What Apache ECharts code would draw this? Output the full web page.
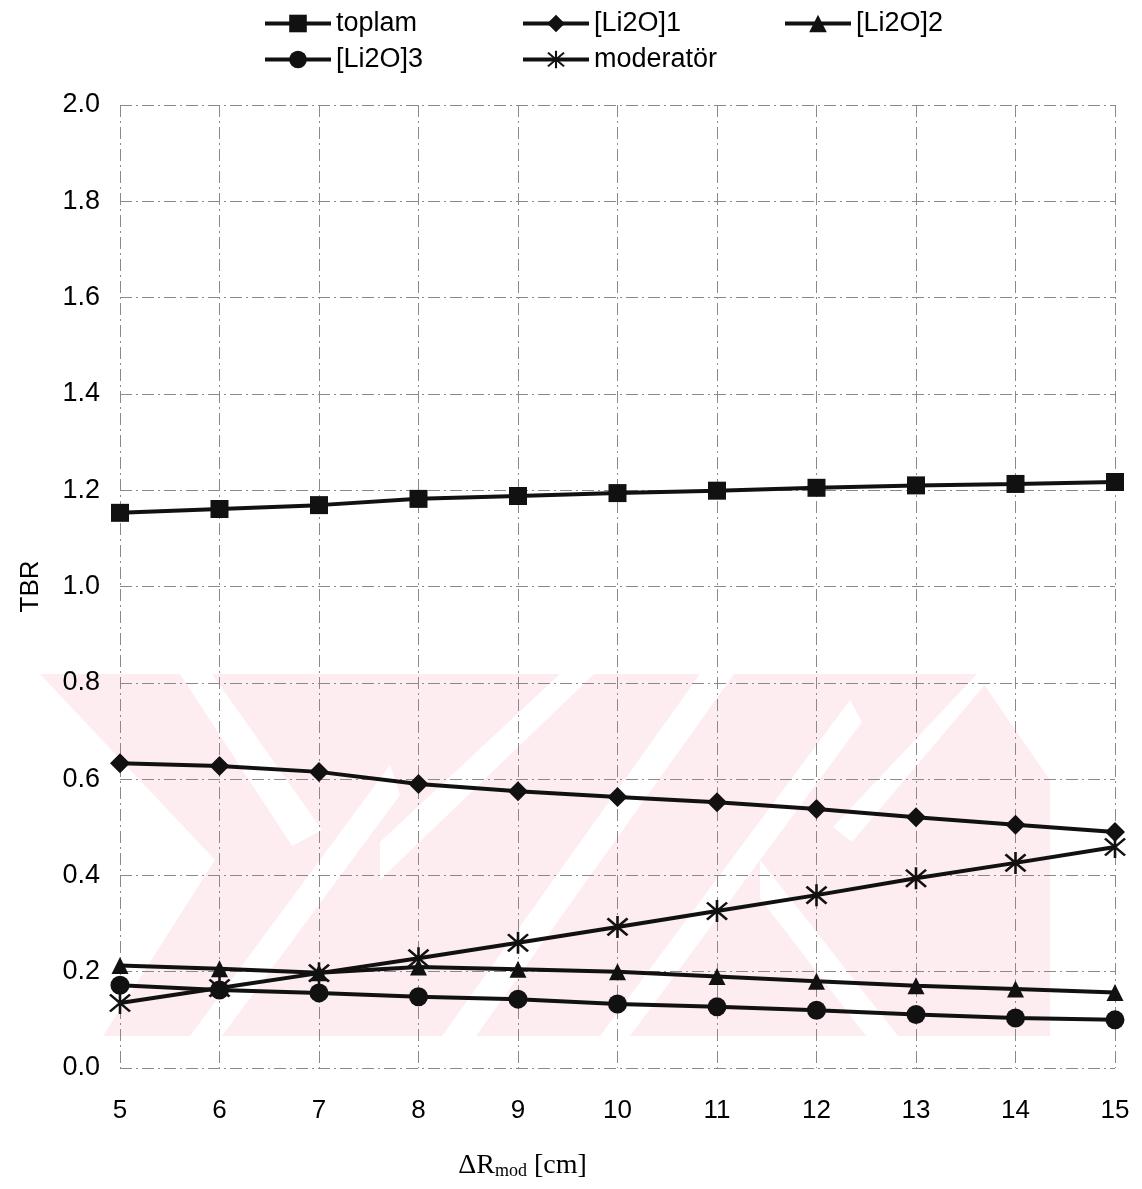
<!DOCTYPE html>
<html><head><meta charset="utf-8">
<script src="https://cdn.jsdelivr.net/npm/echarts@6/dist/echarts.min.js"></script>
<style>html,body{margin:0;padding:0;background:#fff}#c{width:1142px;height:1189px}</style>
</head><body><div id="c"></div>
<script>
const xValues = [5,6,7,8,9,10,11,12,13,14,15];
const toplam = [1.153,1.161,1.169,1.182,1.188,1.194,1.199,1.205,1.210,1.213,1.217];
const li2o1 = [0.633,0.627,0.615,0.590,0.575,0.563,0.552,0.538,0.521,0.505,0.490];
const li2o2 = [0.213,0.206,0.198,0.210,0.205,0.200,0.190,0.180,0.171,0.164,0.157];
const li2o3 = [0.172,0.162,0.156,0.148,0.143,0.133,0.127,0.120,0.111,0.104,0.100];
const moderator = [0.135,0.166,0.197,0.228,0.260,0.293,0.326,0.359,0.394,0.426,0.459];
const yTicks = ['0.0','0.2','0.4','0.6','0.8','1.0','1.2','1.4','1.6','1.8','2.0'];
const names = ['toplam','[Li2O]1','[Li2O]2','[Li2O]3','moderatör'];

const star = 'path://M9 0H11V20H9Z M1.5 3L3 1.5L18.5 17L17 18.5Z M17 1.5L18.5 3L3 18.5L1.5 17Z';
const symbols = ['rect','diamond','triangle','circle',star];
const sizes = [18,20,17,19,22];
const dataArr = [toplam, li2o1, li2o2, li2o3, moderator];
const ink = '#111';

const series = names.map((n,i)=>({
  name:n, type:'line', data: xValues.map((x,j)=>[x,dataArr[i][j]]),
  symbol: symbols[i], symbolSize: sizes[i], showAllSymbol:true,
  lineStyle:{color:ink,width:4}, itemStyle:{color:ink,borderWidth:0},
  z: 10-i, animation:false
}));

// faint watermark decoration (not data)
const pink = '#feedf0';
const wmPink = [
  [[40,674],[977,674],[1050,780],[1050,1036],[103,1036],[215,860]]
];
const wmWhite = [
  [[180,674],[212,674],[322,830],[292,846]],
  [[190,1036],[222,1036],[400,795],[390,765]],
  [[380,842],[380,880],[594,674],[560,674]],
  [[442,1036],[476,1036],[734,674],[700,674]],
  [[600,1036],[630,1036],[862,722],[850,700]],
  [[833,827],[852,842],[994,674],[977,674]],
  [[760,860],[760,898],[866,1036],[898,1036]],
  [[977,674],[1142,674],[1142,1036],[1050,1036],[1050,780]]
];
const graphics = [];
wmPink.forEach(p=>graphics.push({type:'polygon', shape:{points:p}, style:{fill:pink}, z:-10, silent:true}));
wmWhite.forEach(p=>graphics.push({type:'polygon', shape:{points:p}, style:{fill:'#fff'}, z:-9, silent:true}));

const chart = echarts.init(document.getElementById('c'));
const legText = {fontFamily:'Liberation Sans, Arial, sans-serif', fontSize:27, color:'#000'};
const legBase = {orient:'horizontal', itemWidth:66, itemHeight:22, itemGap:8, textStyle:legText,
  selectedMode:false, lineStyle:{width:4, color:ink}, itemStyle:{color:ink}};
chart.setOption({
  backgroundColor:'#fff',
  animation:false,
  graphic: graphics,
  legend:[
    Object.assign({}, legBase, {data:[names[0]], left:258, top:5}),
    Object.assign({}, legBase, {data:[names[1]], left:516, top:5}),
    Object.assign({}, legBase, {data:[names[2]], left:778, top:5}),
    Object.assign({}, legBase, {data:[names[3]], left:258, top:41}),
    Object.assign({}, legBase, {data:[names[4]], left:516, top:41})
  ],
  grid:{left:120, right:27, top:105, bottom:121, containLabel:false},
  xAxis:{
    type:'value', min:5, max:15, interval:1,
    name:'{d|ΔR}{s|mod}{d| [cm]}', nameLocation:'middle', nameGap:84,
    nameTextStyle:{padding:[0,190,0,0], rich:{
      d:{fontFamily:'Liberation Serif, Times New Roman, serif', fontSize:28, color:'#000'},
      s:{fontFamily:'Liberation Serif, Times New Roman, serif', fontSize:18, color:'#000', verticalAlign:'bottom', padding:[10,0,0,0]}
    }},
    axisLine:{show:false}, axisTick:{show:false},
    axisLabel:{fontFamily:'Liberation Sans, Arial, sans-serif', fontSize:26, color:'#000', margin:30},
    splitLine:{show:true, lineStyle:{color:'#8a8a8a', type:[12,4,2,4], width:1}}
  },
  yAxis:{
    type:'value', min:0, max:2, interval:0.2,
    name:'TBR', nameLocation:'middle', nameGap:76, nameRotate:90,
    nameTextStyle:{fontFamily:'Liberation Sans, Arial, sans-serif', fontSize:26, color:'#000'},
    axisLine:{show:false}, axisTick:{show:false},
    axisLabel:{fontFamily:'Liberation Sans, Arial, sans-serif', fontSize:27, color:'#000', margin:20,
      formatter:(v)=>yTicks[Math.round(v/0.2)]},
    splitLine:{show:true, lineStyle:{color:'#8a8a8a', type:[12,4,2,4], width:1}}
  },
  series: series
});
</script></body></html>
